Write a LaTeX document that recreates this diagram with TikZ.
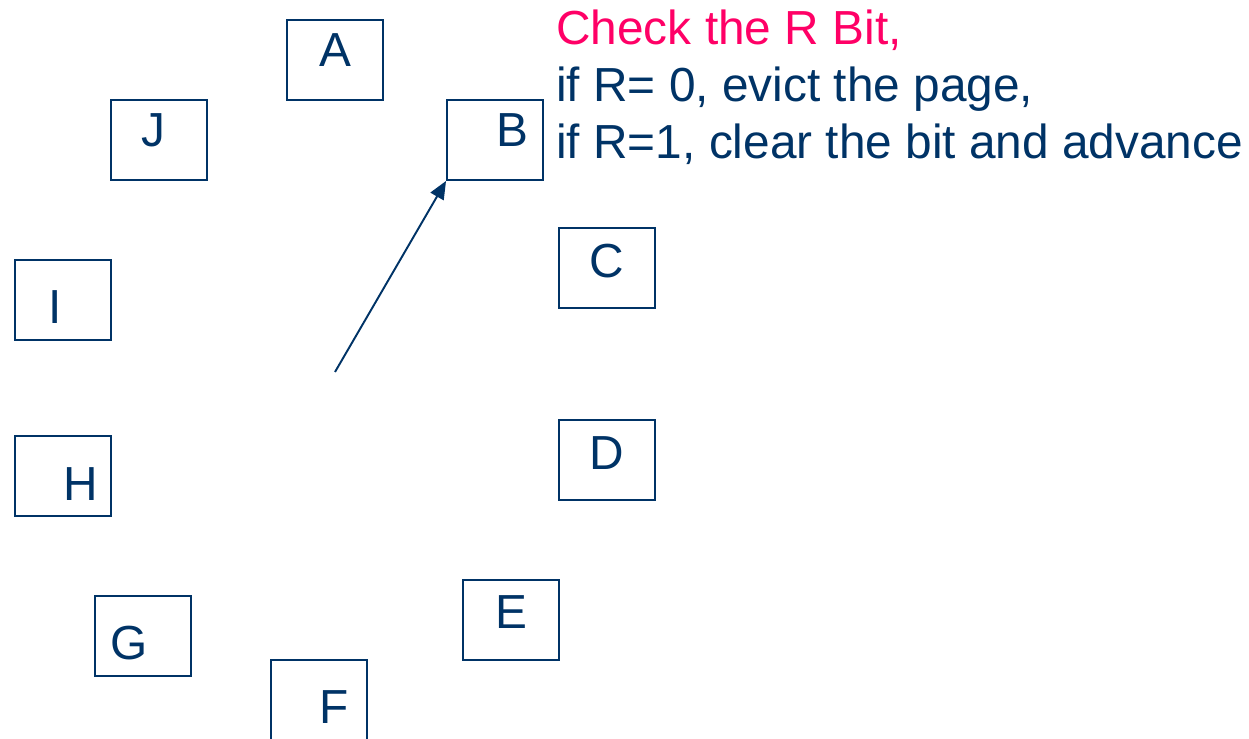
\documentclass[tikz,border=0pt]{standalone}
\usepackage{fontspec}
\setmainfont{Liberation Sans}
\usetikzlibrary{arrows.meta,positioning}
\definecolor{clockblue}{HTML}{003366}
\definecolor{clockpink}{HTML}{FF0066}
\tikzstyle{every node}=[font=\fontsize{27.2}{32}\selectfont, inner sep=0pt]
\tikzstyle{page} = [draw=clockblue, line width=1.1pt, minimum width=1.92cm, minimum height=1.6cm]
\tikzstyle{letter} = [text=clockblue]
\tikzstyle{note} = [anchor=base west, text=clockblue]

\begin{document}
\begin{tikzpicture}[x=0.02cm,y=-0.02cm,>={Triangle[length=0.36cm,width=0.3cm]}]
    \useasboundingbox (0,0) rectangle (1249,739);

    % the pages on the clock
    \node[page] (pageA) at (335,60) {};
    \node[page] (pageB) at (495,140) {};
    \node[page] (pageC) at (607,268) {};
    \node[page] (pageD) at (607,460) {};
    \node[page] (pageE) at (511,620) {};
    \node[page] (pageF) at (319,700) {};
    \node[page] (pageG) at (143,636) {};
    \node[page] (pageH) at (63,476) {};
    \node[page] (pageI) at (63,300) {};
    \node[page] (pageJ) at (159,140) {};

    \node[letter] (labelA) at (335.5,50.5) {A};
    \node[letter] (labelB) at (512.5,130.5) {B};
    \node[letter] (labelC) at (607,261) {C};
    \node[letter] (labelD) at (607,453) {D};
    \node[letter] (labelE) at (511,612) {E};
    \node[letter] (labelF) at (334.5,707) {F};
    \node[letter] (labelG) at (129.5,643) {G};
    \node[letter] (labelH) at (81,484) {H};
    \node[letter] (labelI) at (55,307) {I};
    \node[letter] (labelJ) at (153,130) {J};

    % the clock hand
    \coordinate (hand) at (335,372);
    \draw[->, clockblue, line width=1.1pt] (hand) -- (pageB.south west);

    \node[note, text=clockpink] (check) at (556,45) {Check the R Bit,};
    \node[note] (evict) at (556,102) {if R= 0, evict the page,};
    \node[note] (advance) at (556,159) {if R=1, clear the bit and advance};
\end{tikzpicture}
\end{document}
